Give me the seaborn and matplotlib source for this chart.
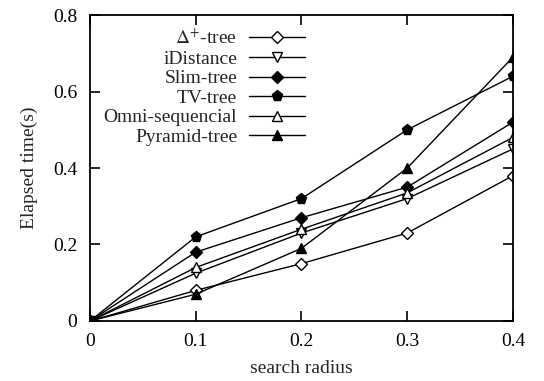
import matplotlib
matplotlib.use("Agg")
import matplotlib.pyplot as plt
import seaborn as sns
import pandas as pd

radius = [0, 0.1, 0.2, 0.3, 0.4]
delta_tree = [0, 0.08, 0.15, 0.23, 0.38]
idistance = [0, 0.125, 0.23, 0.32, 0.45]
slim_tree = [0, 0.18, 0.27, 0.35, 0.52]
tv_tree = [0, 0.22, 0.32, 0.50, 0.64]
omni_seq = [0, 0.14, 0.24, 0.335, 0.48]
pyramid_tree = [0, 0.07, 0.19, 0.40, 0.69]

labels = [r"$\Delta^{+}$-tree", "iDistance", "Slim-tree", "TV-tree",
          "Omni-sequencial", "Pyramid-tree"]
series = [delta_tree, idistance, slim_tree, tv_tree, omni_seq, pyramid_tree]
x_ticks = [0, 0.1, 0.2, 0.3, 0.4]
x_ticklabels = ["0", "0.1", "0.2", "0.3", "0.4"]
y_ticks = [0, 0.2, 0.4, 0.6, 0.8]
y_ticklabels = ["0", "0.2", "0.4", "0.6", "0.8"]

styles = [("D", "white"), ("v", "white"), ("D", "black"),
          ("p", "black"), ("^", "white"), ("^", "black")]
sizes = [6, 7, 6, 8, 7, 7]

sns.set_style("ticks")
plt.rcParams["font.family"] = ["Liberation Serif", "DejaVu Serif"]
plt.rcParams["mathtext.fontset"] = "stix"

fig = plt.figure(figsize=(5.44, 3.81), dpi=100)
ax = fig.add_axes([0.1654, 0.1575, 0.9430 - 0.1654, 0.9606 - 0.1575])

for lab, vals, (m, fc), ms in zip(labels, series, styles, sizes):
    df = pd.DataFrame({"r": radius, "t": vals})
    sns.lineplot(data=df, x="r", y="t", ax=ax, color="black", lw=1.0,
                 marker=m, markerfacecolor=fc, markeredgecolor="black",
                 markeredgewidth=1.0, markersize=ms, label=lab)

ax.set_xlim(0, 0.4)
ax.set_ylim(0, 0.8)
ax.set_xticks(x_ticks)
ax.set_xticklabels(x_ticklabels)
ax.set_yticks(y_ticks)
ax.set_yticklabels(y_ticklabels)
ax.tick_params(direction="in", length=7.5, width=1.2, top=True, right=True,
               labelsize=14, colors="black")
ax.tick_params(axis="x", pad=9)
ax.tick_params(axis="y", pad=9)
for s in ax.spines.values():
    s.set_linewidth(1.3)
    s.set_color("black")
ax.set_xlabel("search radius", fontsize=14, labelpad=7)
ax.set_ylabel("Elapsed time(s)", fontsize=14, labelpad=11)

leg = ax.legend(loc="upper left", bbox_to_anchor=(0.0, 1.0), frameon=False,
                markerfirst=False, fontsize=14, handlelength=2.9,
                labelspacing=0.1, handletextpad=0.6, borderpad=0.2)

fig.savefig("out.png", dpi=100)
